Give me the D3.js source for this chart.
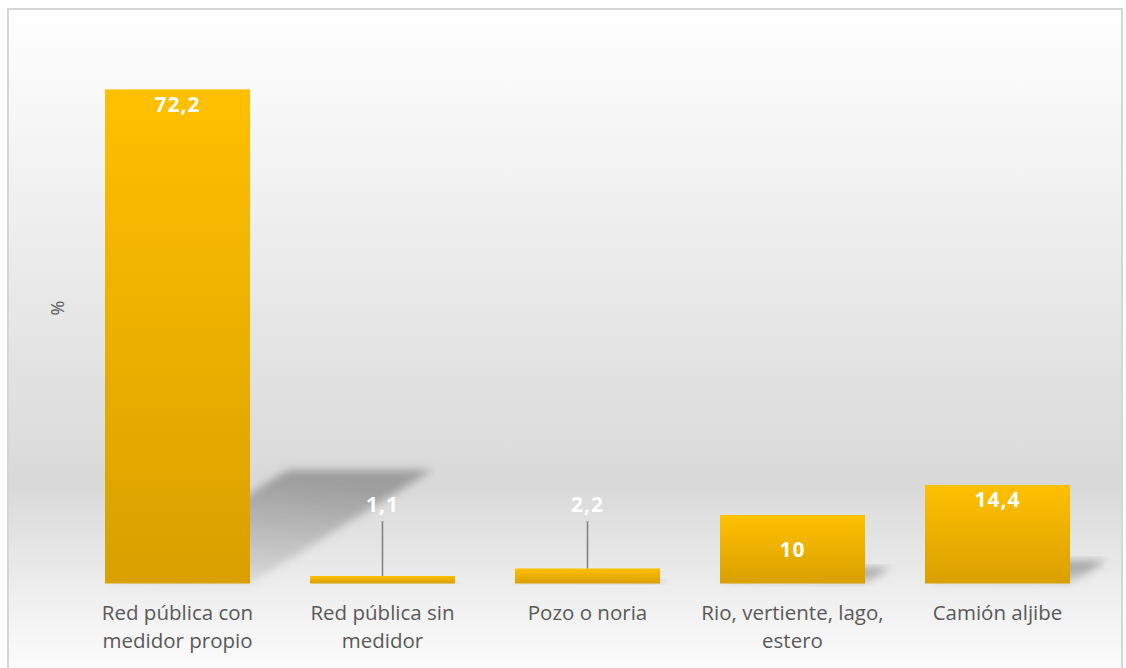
<!DOCTYPE html>
<html lang="es">
<head>
<meta charset="UTF-8">
<title>Fuente de agua</title>
<script src="https://cdnjs.cloudflare.com/ajax/libs/d3/7.8.5/d3.min.js"></script>
<style>
  body { margin: 0; background: #fff; }
  svg { display: block; }
</style>
</head>
<body>
<div id="wrapper"></div>
<script>
// datos
const categories = [
  ['Red pública con', 'medidor propio'],
  ['Red pública sin', 'medidor'],
  ['Pozo o noria'],
  ['Rio, vertiente, lago,', 'estero'],
  ['Camión aljibe']
]
const values = [72.2, 1.1, 2.2, 10, 14.4]
const valueLabels = ['72,2', '1,1', '2,2', '10', '14,4']
// dónde va la etiqueta: dentro arriba, fuera con línea guía, dentro centrada
const labelPos = ['insideEnd', 'callout', 'callout', 'center', 'insideEnd']
const yDomain = [0, 80]

const width = 1126
const height = 668
const margin = { top: 36, right: 26, bottom: 84.5, left: 75 }
const boundedWidth = width - margin.left - margin.right
const boundedHeight = height - margin.top - margin.bottom
const font = '"Open Sans", Lato, sans-serif'

const svg = d3.select('#wrapper')
  .append('svg')
    .attr('width', width)
    .attr('height', height)

const defs = svg.append('defs')

const bg = defs.append('linearGradient')
  .attr('id', 'bg').attr('x1', 0).attr('y1', 0).attr('x2', 0).attr('y2', 1)
bg.append('stop').attr('offset', '0%').attr('stop-color', '#ffffff')
bg.append('stop').attr('offset', '30%').attr('stop-color', '#efefef')
bg.append('stop').attr('offset', '70%').attr('stop-color', '#d9d9d9')
bg.append('stop').attr('offset', '88%').attr('stop-color', '#f1f1f1')
bg.append('stop').attr('offset', '100%').attr('stop-color', '#ffffff')

const barGrad = defs.append('linearGradient')
  .attr('id', 'barGrad').attr('x1', 0).attr('y1', 0).attr('x2', 0).attr('y2', 1)
barGrad.append('stop').attr('offset', '0%').attr('stop-color', '#ffc000')
barGrad.append('stop').attr('offset', '100%').attr('stop-color', '#d9a000')

const shadowGrad = defs.append('linearGradient')
  .attr('id', 'shadowGrad').attr('x1', 0).attr('y1', 1).attr('x2', 0.3).attr('y2', 0)
shadowGrad.append('stop').attr('offset', '0%').attr('stop-color', '#9a9a9a').attr('stop-opacity', 0.15)
shadowGrad.append('stop').attr('offset', '100%').attr('stop-color', '#8a8a8a').attr('stop-opacity', 0.75)

defs.append('filter').attr('id', 'blur')
  .attr('x', '-20%').attr('y', '-20%').attr('width', '140%').attr('height', '140%')
  .append('feGaussianBlur').attr('stdDeviation', 4.5)

// marco y fondo
svg.append('rect')
  .attr('x', 8).attr('y', 9)
  .attr('width', 1114).attr('height', 680)
  .attr('fill', 'url(#bg)')
  .attr('stroke', '#d6d6d6')
  .attr('stroke-width', 2)

const bounds = svg.append('g')
  .attr('transform', `translate(${margin.left},${margin.top})`)

const xScale = d3.scaleBand()
  .domain(d3.range(values.length))
  .range([0, boundedWidth])
  .paddingInner(60 / 205)
  .paddingOuter(30 / 205)

const yScale = d3.scaleLinear()
  .domain(yDomain)
  .range([boundedHeight, 0])

// sombras en perspectiva
const shadowDx = 0.37, shadowDy = 0.23
bounds.append('g').selectAll('path')
  .data(values)
  .join('path')
    .attr('d', (d, i) => {
      const x0 = xScale(i), x1 = x0 + xScale.bandwidth()
      const base = yScale(0)
      const h = base - yScale(d)
      const dx = h * shadowDx, dy = h * shadowDy
      return `M${x0},${base} L${x1},${base} L${x1 + dx},${base - dy} L${x0 + dx},${base - dy} Z`
    })
    .attr('fill', 'url(#shadowGrad)')
    .attr('filter', 'url(#blur)')

// barras
bounds.append('g').selectAll('rect')
  .data(values)
  .join('rect')
    .attr('x', (d, i) => xScale(i))
    .attr('y', d => yScale(d))
    .attr('width', xScale.bandwidth())
    .attr('height', d => yScale(0) - yScale(d))
    .attr('fill', 'url(#barGrad)')

// líneas guía
bounds.append('g').selectAll('line')
  .data(values.map((v, i) => ({ v, i })).filter(d => labelPos[d.i] === 'callout'))
  .join('line')
    .attr('x1', d => xScale(d.i) + xScale.bandwidth() / 2)
    .attr('x2', d => xScale(d.i) + xScale.bandwidth() / 2)
    .attr('y1', d => yScale(d.v))
    .attr('y2', yScale(9.1))
    .attr('stroke', '#7f7f7f')
    .attr('stroke-width', 1.5)

// etiquetas de datos
bounds.append('g').selectAll('text')
  .data(values)
  .join('text')
    .attr('x', (d, i) => xScale(i) + xScale.bandwidth() / 2)
    .attr('y', (d, i) => {
      if (labelPos[i] === 'insideEnd') return yScale(d) + 15
      if (labelPos[i] === 'center') return (yScale(d) + yScale(0)) / 2
      return yScale(11.5)
    })
    .attr('dy', '0.35em')
    .attr('text-anchor', 'middle')
    .attr('fill', '#ffffff')
    .style('font-family', font)
    .style('font-weight', 'bold')
    .style('font-size', '21px')
    .style('letter-spacing', '1px')
    .text((d, i) => valueLabels[i])

// eje x (solo etiquetas)
const xLabels = bounds.append('g')
  .attr('transform', `translate(0,${boundedHeight})`)
  .selectAll('text')
  .data(categories)
  .join('text')
    .attr('x', (d, i) => xScale(i) + xScale.bandwidth() / 2)
    .attr('y', 36)
    .attr('text-anchor', 'middle')
    .attr('fill', '#595959')
    .style('font-family', font)
    .style('font-size', '20.5px')

xLabels.selectAll('tspan')
  .data(d => d)
  .join('tspan')
    .attr('x', function () { return d3.select(this.parentNode).attr('x') })
    .attr('dy', (d, j) => j === 0 ? 0 : 28)
    .text(d => d)

// título eje y
svg.append('text')
  .attr('transform', `translate(64,${308}) rotate(-90)`)
  .attr('text-anchor', 'middle')
  .attr('fill', '#595959')
  .style('font-family', font)
  .style('font-size', '18px')
  .text('%')
</script>
</body>
</html>
